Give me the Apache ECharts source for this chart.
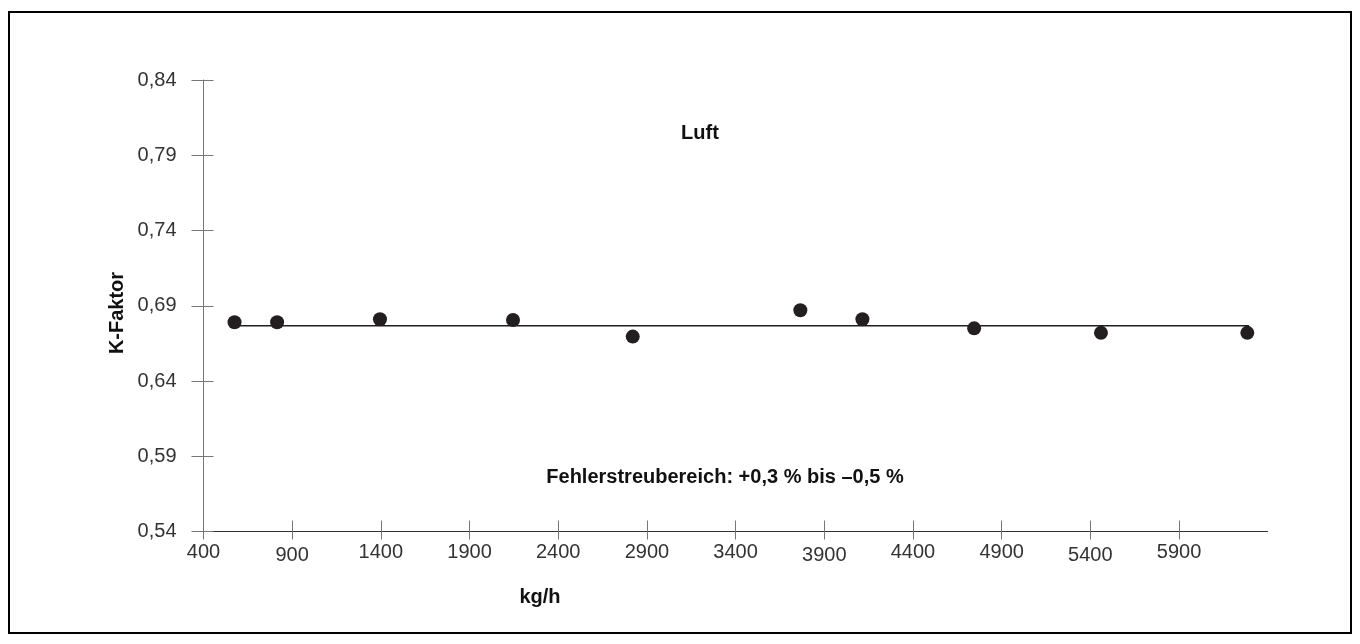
<!DOCTYPE html>
<html>
<head>
<meta charset="utf-8">
<script src="https://cdn.jsdelivr.net/npm/echarts@6/dist/echarts.min.js"></script>
<style>
html,body{margin:0;padding:0;background:#fff;}
#chart{width:1360px;height:644px;}
</style>
</head>
<body>
<div id="chart"></div>
<script>
// ---- data ----
const xTicks = [400, 900, 1400, 1900, 2400, 2900, 3400, 3900, 4400, 4900, 5400, 5900];
const yTicks = [0.54, 0.59, 0.64, 0.69, 0.74, 0.79, 0.84];
const flowKgH = [575, 815, 1395, 2145, 2820, 3765, 4115, 4745, 5460, 6285];
const kFactor = [0.679, 0.679, 0.681, 0.6805, 0.6695, 0.687, 0.681, 0.675, 0.672, 0.672];
const meanLineX = [575, 6295];
const meanLineY = [0.6767, 0.6767];
const xName = 'kg/h';
const yName = 'K-Faktor';
const gasLabel = 'Luft';
const errorLabel = 'Fehlerstreubereich: +0,3 % bis \u20130,5 %';

// ---- chart ----
const FONT = '"Liberation Sans", Arial, Helvetica, sans-serif';
const lowLabels = new Set([900, 3900, 5400]);
const chart = echarts.init(document.getElementById('chart'));

const points = flowKgH.map((x, i) => [x, kFactor[i]]);
const meanLine = meanLineX.map((x, i) => [x, meanLineY[i]]);

const xBase = {
  type: 'value', min: 400, max: 6400, position: 'bottom',
  splitLine: { show: false }
};
const yBase = {
  type: 'value', min: 0.54, max: 0.84, position: 'left',
  splitLine: { show: false }
};

chart.setOption({
  animation: false,
  backgroundColor: '#fff',
  grid: { left: 203.5, top: 80, right: 92.3, bottom: 112.5 },
  xAxis: [
    Object.assign({}, xBase, {
      axisLine: { show: true, lineStyle: { color: '#333', width: 1 } },
      axisTick: { show: true, customValues: xTicks, length: 8, lineStyle: { color: '#777', width: 1 } },
      axisLabel: {
        show: true, customValues: xTicks, margin: 11,
        fontSize: 20, color: '#333', fontFamily: FONT,
        formatter: v => lowLabels.has(v) ? '{lo|' + v + '}' : '{hi|' + v + '}',
        rich: {
          lo: { fontSize: 20, color: '#333', fontFamily: FONT, lineHeight: 26 },
          hi: { fontSize: 20, color: '#333', fontFamily: FONT, lineHeight: 20 }
        }
      }
    }),
    Object.assign({}, xBase, {
      axisLine: { show: false },
      axisTick: { show: true, inside: true, customValues: xTicks, length: 11, lineStyle: { color: '#777', width: 1 } },
      axisLabel: { show: false }
    })
  ],
  yAxis: [
    Object.assign({}, yBase, {
      axisLine: { show: true, lineStyle: { color: '#777', width: 1 } },
      axisTick: { show: true, customValues: yTicks, length: 12, lineStyle: { color: '#777', width: 1 } },
      axisLabel: {
        show: true, customValues: yTicks, margin: 27,
        fontSize: 20, color: '#333', fontFamily: FONT,
        formatter: v => v.toFixed(2).replace('.', ',')
      }
    }),
    Object.assign({}, yBase, {
      axisLine: { show: false },
      axisTick: { show: true, inside: true, customValues: yTicks, length: 10, lineStyle: { color: '#777', width: 1 } },
      axisLabel: { show: false }
    })
  ],
  series: [
    {
      type: 'line', xAxisIndex: 0, yAxisIndex: 0,
      data: meanLine, showSymbol: false, symbol: 'none',
      lineStyle: { color: '#231f20', width: 1.6 }, z: 2
    },
    {
      type: 'scatter', xAxisIndex: 0, yAxisIndex: 0,
      data: points, symbol: 'circle', symbolSize: 14,
      itemStyle: { color: '#231f20', opacity: 1 }, z: 3
    }
  ],
  graphic: [
    {
      type: 'rect', silent: true,
      shape: { x: 9, y: 12, width: 1342, height: 621 },
      style: { fill: 'none', stroke: '#000', lineWidth: 2 }
    },
    {
      type: 'text', x: 700, y: 133,
      style: { text: gasLabel, font: 'bold 20px ' + FONT, fill: '#111', align: 'center', verticalAlign: 'middle' }
    },
    {
      type: 'text', x: 725, y: 477,
      style: { text: errorLabel, font: 'bold 20px ' + FONT, fill: '#111', align: 'center', verticalAlign: 'middle' }
    },
    {
      type: 'text', x: 540, y: 597,
      style: { text: xName, font: 'bold 20px ' + FONT, fill: '#111', align: 'center', verticalAlign: 'middle' }
    },
    {
      type: 'text', x: 117, y: 313, rotation: Math.PI / 2,
      style: { text: yName, font: 'bold 20px ' + FONT, fill: '#111', align: 'center', verticalAlign: 'middle' }
    }
  ]
});
</script>
</body>
</html>
